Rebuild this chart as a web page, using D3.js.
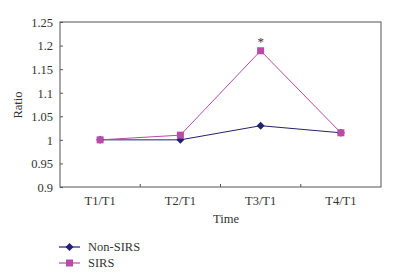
<!DOCTYPE html>
<html><head><meta charset="utf-8">
<script src="https://cdn.jsdelivr.net/npm/d3@7"></script>
<style>body{margin:0;background:#fff}svg{display:block}svg text{font-family:"Liberation Serif",serif !important;fill:#333}</style>
</head><body><svg width="403" height="275"></svg>
<script>
const categories = ["T1/T1","T2/T1","T3/T1","T4/T1"];
const nonSIRS = [1.0, 1.0, 1.03, 1.015];
const sirs = [1.0, 1.01, 1.189, 1.015];
const yTicks = [0.9,0.95,1,1.05,1.1,1.15,1.2,1.25];
const seriesNames = ["Non-SIRS","SIRS"];
const colors = ["#22226e","#b94aa8"];
const FS = 12.5;

const svg = d3.select("svg");
const L=60,R=381,T=22,B=187;
const x = d3.scaleBand().domain(categories).range([L,R]);
const y = d3.scaleLinear().domain([0.9,1.25]).range([B,T]);

svg.append("rect").attr("x",L).attr("y",T).attr("width",R-L).attr("height",B-T)
  .attr("fill","none").attr("stroke","#555").attr("stroke-width",1);

const ya = svg.append("g").attr("transform",`translate(${L},0)`)
  .call(d3.axisLeft(y).tickValues(yTicks).tickSize(-3).tickPadding(7).tickFormat(d=>String(+d.toFixed(2))));
ya.select(".domain").remove();
ya.selectAll("line").attr("stroke","#555");
ya.selectAll("text").attr("font-size",FS).attr("fill","#333").attr("dy","0.35em");

const xa = svg.append("g").attr("transform",`translate(0,${B})`)
  .call(d3.axisBottom(x).tickSize(0).tickPadding(9));
xa.select(".domain").remove();
xa.selectAll("text").attr("font-size",FS).attr("fill","#333");
svg.append("g").selectAll("line").data(categories.slice(1)).join("line")
  .attr("x1",d=>x(d)).attr("x2",d=>x(d)).attr("y1",B).attr("y2",B-3).attr("stroke","#555");

svg.append("text").attr("transform","translate(22,105) rotate(-90)").attr("text-anchor","middle")
  .attr("font-size",FS).text("Ratio");
svg.append("text").attr("x",226).attr("y",223).attr("text-anchor","middle").attr("font-size",FS).text("Time");

const cx = d => x(d)+x.bandwidth()/2;
const line = d3.line().x((v,i)=>cx(categories[i])).y(v=>y(v));
const data=[nonSIRS,sirs];
data.forEach((vals,si)=>{
  svg.append("path").datum(vals).attr("d",line).attr("fill","none").attr("stroke",colors[si]).attr("stroke-width",1);
});
function marker(g,si,px,py){
  if(si===0){
    g.append("path").attr("d",`M${px},${py-4}L${px+4},${py}L${px},${py+4}L${px-4},${py}Z`).attr("fill",colors[0]);
  } else {
    g.append("rect").attr("x",px-3.5).attr("y",py-3.5).attr("width",7).attr("height",7).attr("fill",colors[1]);
  }
}
const mg = svg.append("g");
data.forEach((vals,si)=>vals.forEach((v,i)=>marker(mg,si,cx(categories[i]),y(v))));

svg.append("text").attr("x",cx(categories[2])).attr("y",y(sirs[2])-5).attr("text-anchor","middle")
  .attr("font-size",13).attr("fill","#555").text("*");

seriesNames.forEach((n,i)=>{
  const ly = 247 + i*16;
  svg.append("line").attr("x1",59).attr("x2",80).attr("y1",ly).attr("y2",ly).attr("stroke",colors[i]).attr("stroke-width",1.2);
  marker(svg,i,69.5,ly);
  svg.append("text").attr("x",88).attr("y",ly+4).attr("font-size",FS).text(n);
});
</script></body></html>
